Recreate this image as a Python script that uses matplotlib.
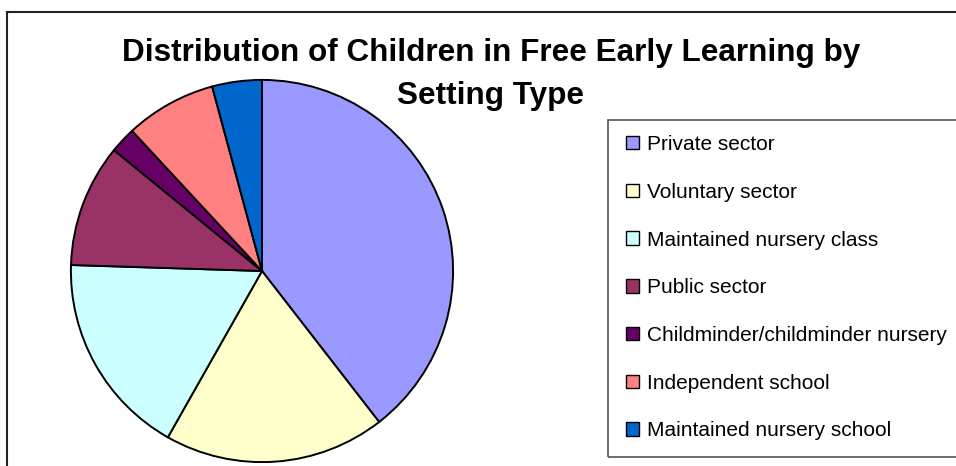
import matplotlib.pyplot as plt
from matplotlib.patches import Patch, Rectangle
from matplotlib.lines import Line2D

plt.rcParams['font.family'] = ['Liberation Sans', 'DejaVu Sans']

# Data (shares in %)
labels = ['Private sector', 'Voluntary sector', 'Maintained nursery class',
          'Public sector', 'Childminder/childminder nursery',
          'Independent school', 'Maintained nursery school']
shares = [39.5, 18.7, 17.3, 10.4, 2.2, 7.7, 4.2]
colors = ['#9999FF', '#FFFFCC', '#CCFFFF', '#993366', '#660066',
          '#FF8080', '#0066CC']

W, H = 956, 466
fig = plt.figure(figsize=(W / 100, H / 100), dpi=100)

# pie axes: centre (262, 271) px, radius 193 px
cx, cy, r = 262, 271, 193
ax = fig.add_axes([(cx - r) / W, (H - cy - r) / H, 2 * r / W, 2 * r / H])
ax.pie(shares, colors=colors, startangle=90, counterclock=False,
       wedgeprops=dict(edgecolor='black', linewidth=1.4))
ax.set_xlim(-1.01, 1.01)
ax.set_ylim(-1.01, 1.01)
ax.set_aspect('equal')
ax.axis('off')

# chart border (left and top visible only)
fig.add_artist(Line2D([6.5 / W, 6.5 / W], [0, 1 - 12 / H],
                      transform=fig.transFigure, color='#222222', lw=1.5))
fig.add_artist(Line2D([6.5 / W, 1], [1 - 12 / H, 1 - 12 / H],
                      transform=fig.transFigure, color='#222222', lw=1.5))

fig.text(491 / W, 1 - 53 / H, 'Distribution of Children in Free Early Learning by',
         ha='center', va='center', fontsize=22.7, fontweight='bold')
fig.text(491 / W, 1 - 96 / H, 'Setting Type',
         ha='center', va='center', fontsize=22.7, fontweight='bold')

# legend box
fig.add_artist(Rectangle((608 / W, 1 - 457 / H), 360 / W, 337 / H,
                         transform=fig.transFigure, fill=False,
                         edgecolor='#555555', lw=1.2))
handles = [Patch(facecolor=c, edgecolor='black', lw=1.0) for c in colors]
fig.legend(handles, labels, loc='upper left',
           bbox_to_anchor=(626 / W, 1 - 135 / H), frameon=False,
           fontsize=15, handlelength=0.62, handleheight=0.62,
           handletextpad=0.38, labelspacing=1.38, borderpad=0,
           borderaxespad=0)

fig.savefig('out.png', dpi=100)
